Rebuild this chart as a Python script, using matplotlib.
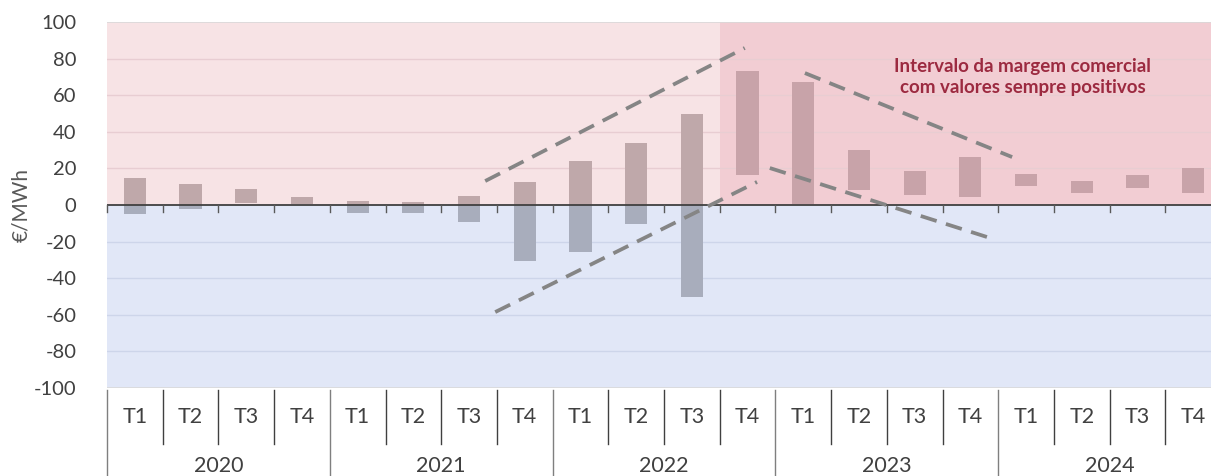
import matplotlib
matplotlib.use("Agg")
import matplotlib.pyplot as plt
from matplotlib.patches import Rectangle

plt.rcParams['font.family'] = ['Lato', 'DejaVu Sans']
plt.rcParams['lines.scale_dashes'] = False

# ---------------- data ----------------
years = ["2020", "2021", "2022", "2023", "2024"]
quarters = ["T1", "T2", "T3", "T4"]
low_vals = [-5.1, -2.0, 1.3, 0.3, -4.2, -4.4, -9.3, -30.8, -25.9, -10.2, -50.5,
            16.6, 0.7, 8.2, 5.5, 4.4, 10.6, 6.7, 9.5, 6.7]
high_vals = [14.6, 11.3, 8.7, 4.4, 2.4, 1.5, 4.9, 12.4, 23.9, 34.1, 49.7,
             73.4, 67.4, 30.2, 18.6, 26.4, 16.9, 12.9, 16.6, 20.4]
# dashed trend guides: (x0, y0, x1, y1) in category index / value units
guide_x0 = [6.29, 6.47, 12.03, 11.40]
guide_y0 = [13.1, -58.5, 72.1, 20.2]
guide_x1 = [10.95, 11.17, 15.75, 15.30]
guide_y1 = [85.8, 12.6, 26.2, -17.5]
highlight_start = 10.5   # start of "always positive" zone (2022 T4)
annot_text = "Intervalo da margem comercial\ncom valores sempre positivos"
annot_x, annot_y = 15.94, 70.0
y_ticks = list(range(-100, 101, 20))

# ---------------- styling ----------------
W, H = 1211, 476
fig = plt.figure(figsize=(W / 100, H / 100), dpi=100)
left_px, right_px, top_px, bot_px = 107, 107 + 55.7 * 20, 22, 388
ax = fig.add_axes([left_px / W, 1 - bot_px / H, (right_px - left_px) / W, (bot_px - top_px) / H])

n = len(low_vals)
ax.set_xlim(-0.5, n - 0.5)
ax.set_ylim(-100, 100)

c_pink = "#F7E3E5"
c_pink_dark = "#F2CDD3"
c_blue = "#E1E7F7"
ax.add_patch(Rectangle((-0.5, 0), n, 100, color=c_pink, zorder=0, lw=0))
ax.add_patch(Rectangle((highlight_start, 0), n - 0.5 - highlight_start, 100,
                       color=c_pink_dark, zorder=0.1, lw=0))
ax.add_patch(Rectangle((-0.5, -100), n, 100, color=c_blue, zorder=0, lw=0))

# gridlines
for v in y_ticks:
    if v in (100, -100):
        ax.axhline(v, color="#D9D9D9", lw=1.2, zorder=0.5)
    elif v > 0:
        ax.axhline(v, color="#E8CDD2", lw=1.0, zorder=0.5)
    elif v < 0:
        ax.axhline(v, color="#CDD5EA", lw=1.0, zorder=0.5)

# bars: split at zero, colour per background region
bw = 0.4
for i, (lo, hi) in enumerate(zip(low_vals, high_vals)):
    pos_col = "#C8A3A9" if i > highlight_start else "#BFA8AA"
    if hi > 0:
        b = max(lo, 0)
        ax.bar(i, hi - b, bottom=b, width=bw, color=pos_col, zorder=2, lw=0)
    if lo < 0:
        t = min(hi, 0)
        ax.bar(i, t - lo, bottom=lo, width=bw, color="#A8ADBC", zorder=2, lw=0)

# zero line + small ticks
ax.axhline(0, color="#404040", lw=1.3, zorder=3)
for k in range(n + 1):
    ax.plot([k - 0.5, k - 0.5], [0, -3.8], color="#595959", lw=1.0, zorder=3, clip_on=False)

# dashed guides
for x0, y0, x1, y1 in zip(guide_x0, guide_y0, guide_x1, guide_y1):
    ax.plot([x0, x1], [y0, y1], color="#858585", lw=2.7, dashes=(12, 7),
            solid_capstyle="butt", dash_capstyle="butt", zorder=4)

ax.text(annot_x, annot_y, annot_text, ha="center", va="center", fontsize=13.5,
        fontweight="bold", color="#9C2A40", linespacing=1.3, zorder=5)

# axes cosmetics
for s in ax.spines.values():
    s.set_visible(False)
ax.set_yticks(y_ticks)
ax.set_yticklabels([str(v) for v in y_ticks], fontsize=14.5, color="#404040")
ax.tick_params(axis="y", length=0, pad=22)
ax.set_xticks([])
ax.set_ylabel("€/MWh", fontsize=15, color="#595959", labelpad=2)

# category axis (quarters + years)
tr = ax.get_xaxis_transform()
ax_h = bot_px - top_px
def frac(px):
    return -(px - bot_px) / ax_h

for k in range(n + 1):
    xb = k - 0.5
    if k % 4 == 0:
        ax.plot([xb, xb], [frac(bot_px + 2), frac(H + 5)], transform=tr,
                color="#7F7F7F", lw=1.0, clip_on=False)
    else:
        ax.plot([xb, xb], [frac(bot_px + 2), frac(444)], transform=tr,
                color="#404040", lw=1.0, clip_on=False)

for i in range(n):
    ax.text(i, frac(417), quarters[i % 4], transform=tr, ha="center", va="center",
            fontsize=15.5, color="#404040", clip_on=False)
for j, yr in enumerate(years):
    ax.text(j * 4 + 1.5, frac(466), yr, transform=tr, ha="center", va="center",
            fontsize=15.5, color="#404040", clip_on=False)

fig.savefig("out.png", dpi=100)
